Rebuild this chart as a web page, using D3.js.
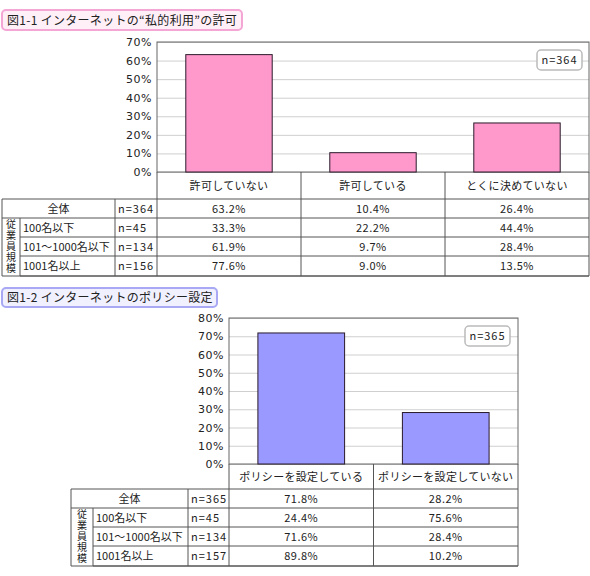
<!DOCTYPE html>
<html><head><meta charset="utf-8">
<script src="https://cdn.jsdelivr.net/npm/d3@7"></script>
<style>
body{margin:0;background:#fff;}
svg{display:block;font-family:"Noto Sans CJK JP","Noto Sans",sans-serif;}
</style></head><body>
<svg id="c" width="590" height="576"></svg>
<script>
// ---- Data: chart 1 ----
const title1 = "図1-1 インターネットの“私的利用”の許可";
const categories1 = ["許可していない", "許可している", "とくに決めていない"];
const total1 = [63.2, 10.4, 26.4];
const totalN1 = "n=364";
const segN1 = ["n=45", "n=134", "n=156"];
const seg1 = [[33.3, 22.2, 44.4], [61.9, 9.7, 28.4], [77.6, 9.0, 13.5]];
const yTicks1 = [0, 10, 20, 30, 40, 50, 60, 70];

// ---- Data: chart 2 ----
const title2 = "図1-2 インターネットのポリシー設定";
const categories2 = ["ポリシーを設定している", "ポリシーを設定していない"];
const total2 = [71.8, 28.2];
const totalN2 = "n=365";
const segN2 = ["n=45", "n=134", "n=157"];
const seg2 = [[24.4, 75.6], [71.6, 28.4], [89.8, 10.2]];
const yTicks2 = [0, 10, 20, 30, 40, 50, 60, 70, 80];

// shared labels
const totalLabel = "全体";
const rowLabels = ["100名以下", "101～1000名以下", "1001名以上"];
const groupLabel = "従業員規模";

const svg = d3.select("#c");
const TXT = "#222";
const LINE = "#555";

function drawChart(o) {
  const g = svg.append("g");
  // title box
  g.append("rect").attr("x", o.tx).attr("y", o.ty).attr("width", o.tw).attr("height", o.th)
    .attr("rx", 4).attr("fill", o.titleFill).attr("stroke", o.titleStroke).attr("stroke-width", 2);
  g.append("text").attr("x", o.tx + 5).attr("y", o.ty + o.th / 2 + 4.5)
    .attr("font-size", 12).attr("letter-spacing", 0.3).attr("fill", TXT).text(o.title);

  const x = d3.scaleBand().domain(o.cats).range([o.left, o.right]).paddingInner(0.4).paddingOuter(0.2);
  const y = d3.scaleLinear().domain([0, d3.max(o.ticks)]).range([o.bottom, o.top]);

  // grid
  g.append("g").attr("transform", `translate(${o.left},0)`)
    .call(d3.axisLeft(y).tickValues(o.ticks).tickSize(-(o.right - o.left)).tickFormat(""))
    .call(s => s.select(".domain").remove())
    .call(s => s.selectAll("line").attr("stroke", "#cfcfcf"));
  // tick labels
  g.append("g").attr("transform", `translate(${o.left},0)`)
    .call(d3.axisLeft(y).tickValues(o.ticks).tickSize(0).tickPadding(5).tickFormat(d => d + "%"))
    .call(s => s.select(".domain").remove())
    .call(s => s.selectAll("text").attr("font-size", 11).attr("fill", TXT)
      .attr("font-family", '"DejaVu Sans",sans-serif').attr("letter-spacing", 0.5));
  // plot frame
  g.append("rect").attr("x", o.left).attr("y", o.top).attr("width", o.right - o.left)
    .attr("height", o.bottom - o.top).attr("fill", "none").attr("stroke", "#666");
  // bars
  g.selectAll(".bar").data(o.total).join("rect")
    .attr("x", (d, i) => x(o.cats[i])).attr("width", x.bandwidth())
    .attr("y", d => y(d)).attr("height", d => y(0) - y(d))
    .attr("fill", o.barFill).attr("stroke", "#2a1a2a").attr("stroke-width", 1);
  // n box
  g.append("rect").attr("x", o.nx).attr("y", o.ny).attr("width", 45).attr("height", 20).attr("rx", 4)
    .attr("fill", "#fff").attr("stroke", "#bbb").attr("stroke-width", 1.5);
  g.append("text").attr("x", o.nx + 22.5).attr("y", o.ny + 14).attr("text-anchor", "middle")
    .attr("font-size", 11).attr("fill", TXT).attr("letter-spacing", 1).text(o.totalN);

  // ---- table ----
  const rowsY = o.rowsY;
  const c0 = o.tableLeft, c1 = o.c1, c2 = o.c2;
  const step = x.step();
  const colX = o.cats.map((c, i) => o.left + i * step);
  const tbl = g.append("g").attr("stroke", LINE).attr("stroke-width", 1);
  const line = (x1, y1, x2, y2) => tbl.append("line").attr("x1", x1).attr("y1", y1).attr("x2", x2).attr("y2", y2);
  colX.concat([o.right]).forEach(cx => line(cx, o.bottom, cx, rowsY[rowsY.length - 1]));
  rowsY.forEach((ry, i) => line(i <= 1 ? c0 : c1, ry, o.right, ry));
  line(c0, rowsY[0], c0, rowsY[rowsY.length - 1]);
  line(c1, rowsY[1], c1, rowsY[rowsY.length - 1]);
  line(c2, rowsY[0], c2, rowsY[rowsY.length - 1]);
  line(c0, rowsY[rowsY.length - 1], o.right, rowsY[rowsY.length - 1]);

  const t = g.append("g").attr("font-size", 11).attr("fill", TXT);
  o.cats.forEach((c, i) => t.append("text").attr("x", x(c) + x.bandwidth() / 2)
    .attr("y", (o.bottom + rowsY[0]) / 2 + 4).attr("text-anchor", "middle").attr("letter-spacing", 0.3).text(c));
  const midY = (a, b) => (a + b) / 2 + 4;
  const fmt = v => v.toFixed(1) + "%";
  t.append("text").attr("x", (c0 + c2) / 2).attr("y", midY(rowsY[0], rowsY[1])).attr("text-anchor", "middle").text(totalLabel);
  t.append("text").attr("x", c2 + 3).attr("y", midY(rowsY[0], rowsY[1])).attr("letter-spacing", 1).text(o.totalN);
  o.total.forEach((v, i) => t.append("text").attr("x", colX[i] + step / 2).attr("y", midY(rowsY[0], rowsY[1]))
    .attr("text-anchor", "middle").attr("letter-spacing", 0.5).text(fmt(v)));
  rowLabels.forEach((lab, r) => {
    const yy = midY(rowsY[r + 1], rowsY[r + 2]);
    t.append("text").attr("x", c1 + 3).attr("y", yy).text(lab);
    t.append("text").attr("x", c2 + 3).attr("y", yy).attr("letter-spacing", 1).text(o.segN[r]);
    o.seg[r].forEach((v, i) => t.append("text").attr("x", colX[i] + step / 2).attr("y", yy)
      .attr("text-anchor", "middle").attr("letter-spacing", 0.5).text(fmt(v)));
  });
  // vertical group label (single text, vertical writing mode)
  const gTop = rowsY[1], gBot = rowsY[rowsY.length - 1];
  t.append("text").attr("x", (c0 + c1) / 2).attr("y", (gTop + gBot) / 2)
    .attr("writing-mode", "tb").style("writing-mode", "vertical-rl")
    .attr("text-anchor", "middle").attr("font-size", 10).attr("letter-spacing", 1)
    .text(groupLabel);
}

drawChart({
  title: title1, tx: 2, ty: 10, tw: 240, th: 20, titleFill: "#fff0f8", titleStroke: "#f4a6d4",
  cats: categories1, total: total1, totalN: totalN1, segN: segN1, seg: seg1, ticks: yTicks1,
  left: 157, right: 589, top: 42, bottom: 172, barFill: "#ff99cc",
  nx: 537, ny: 50,
  rowsY: [199, 218, 237, 256, 276], tableLeft: 2, c1: 20, c2: 115
});
drawChart({
  title: title2, tx: 2, ty: 288, tw: 215, th: 19, titleFill: "#f0f0ff", titleStroke: "#a8a8f4",
  cats: categories2, total: total2, totalN: totalN2, segN: segN2, seg: seg2, ticks: yTicks2,
  left: 229, right: 518, top: 318, bottom: 464, barFill: "#9999ff",
  nx: 465, ny: 326,
  rowsY: [489, 508, 527, 546, 566], tableLeft: 71, c1: 93, c2: 188
});
</script>
</body></html>
